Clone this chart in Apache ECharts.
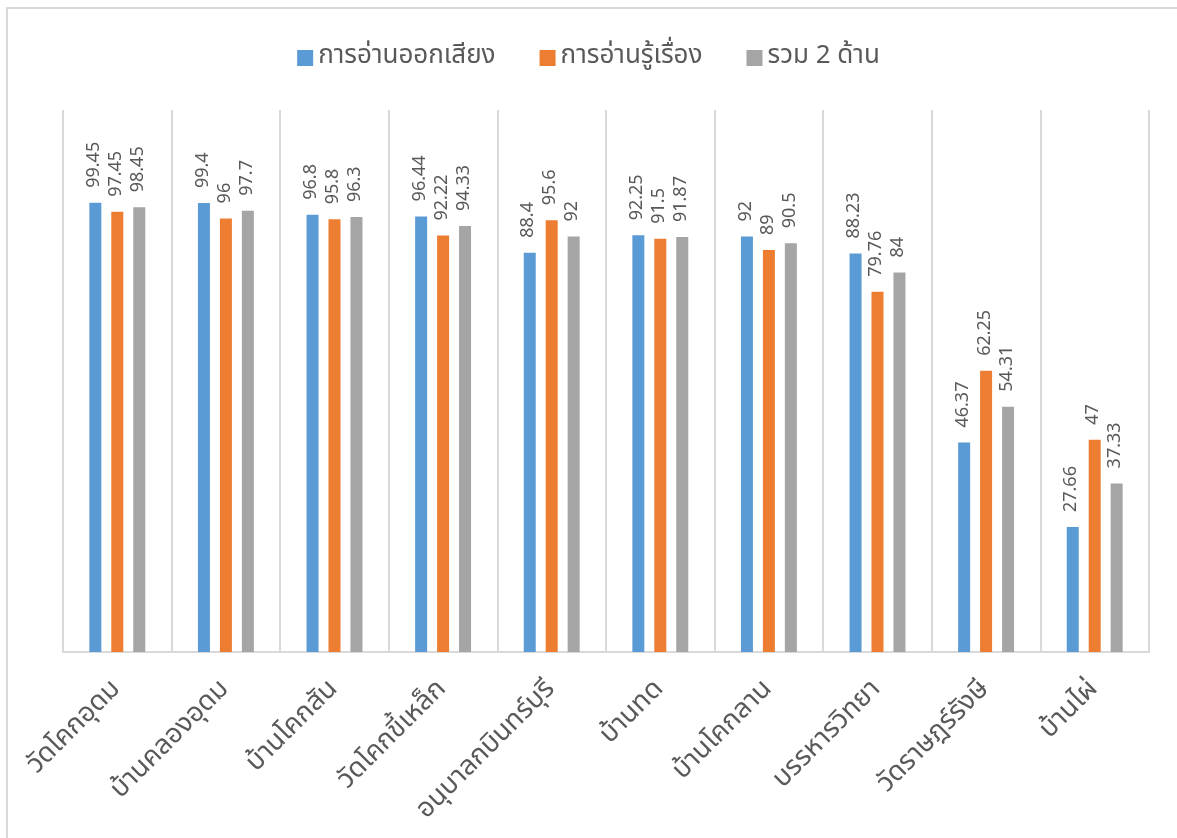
<!DOCTYPE html>
<html>
<head>
<meta charset="utf-8">
<script src="https://cdn.jsdelivr.net/npm/echarts@6/dist/echarts.min.js"></script>
<style>
html,body{margin:0;padding:0;background:#fff;}
#c{width:1177px;height:838px;}
</style>
</head>
<body>
<div id="c"></div>
<script>
const categories = ['วัดโคกอุดม','บ้านคลองอุดม','บ้านโคกสัน','วัดโคกขี้เหล็ก','อนุบาลกบินทร์บุรี','บ้านทด','บ้านโคกลาน','บรรหารวิทยา','วัดราษฎร์รังษี','บ้านไผ่'];
const seriesNames = ['การอ่านออกเสียง','การอ่านรู้เรื่อง','รวม 2 ด้าน'];
const readAloud = [99.45, 99.4, 96.8, 96.44, 88.4, 92.25, 92, 88.23, 46.37, 27.66];
const readComprehend = [97.45, 96, 95.8, 92.22, 95.6, 91.5, 89, 79.76, 62.25, 47];
const combined = [98.45, 97.7, 96.3, 94.33, 92, 91.87, 90.5, 84, 54.31, 37.33];
const colors = ['#5b9bd5','#ed7d31','#a5a5a5'];
const FONT = '"Noto Sans Thai","Noto Sans","DejaVu Sans",sans-serif';

const chart = echarts.init(document.getElementById('c'), null, {renderer:'canvas'});
const dataSets = [readAloud, readComprehend, combined];
chart.setOption({
  animation:false,
  color: colors,
  textStyle:{fontFamily:FONT},
  graphic:[{type:'rect', shape:{x:7,y:8,width:1300,height:1000}, style:{fill:'none', stroke:'#d9d9d9', lineWidth:2}, silent:true}],
  legend:{
    top:40, left:'center', itemWidth:16, itemHeight:16, itemGap:44,
    textStyle:{fontSize:26, color:'#595959', fontFamily:FONT},
    data: seriesNames.map(n=>({name:n, icon:'rect'}))
  },
  grid:{left:63, right:28, top:110, bottom:186, containLabel:false},
  xAxis:{
    type:'category', data:categories, boundaryGap:true,
    axisLine:{show:true, lineStyle:{color:'#d9d9d9', width:2}},
    axisTick:{show:false},
    splitLine:{show:true, interval:0, lineStyle:{color:'#d9d9d9', width:2}},
    axisLabel:{interval:0, rotate:45, fontSize:27, color:'#595959', margin:34, fontFamily:FONT}
  },
  yAxis:{type:'value', min:0, max:120, show:false, splitLine:{show:false}},
  series: seriesNames.map((n,i)=>({
    name:n, type:'bar', data:dataSets[i], barWidth:12, barGap:'83%',
    itemStyle:{color:colors[i]},
    label:{show:true, position:'top', rotate:90, align:'left', verticalAlign:'middle', distance:15,
      fontSize:18, color:'#595959', fontFamily:FONT}
  }))
});
</script>
</body>
</html>
